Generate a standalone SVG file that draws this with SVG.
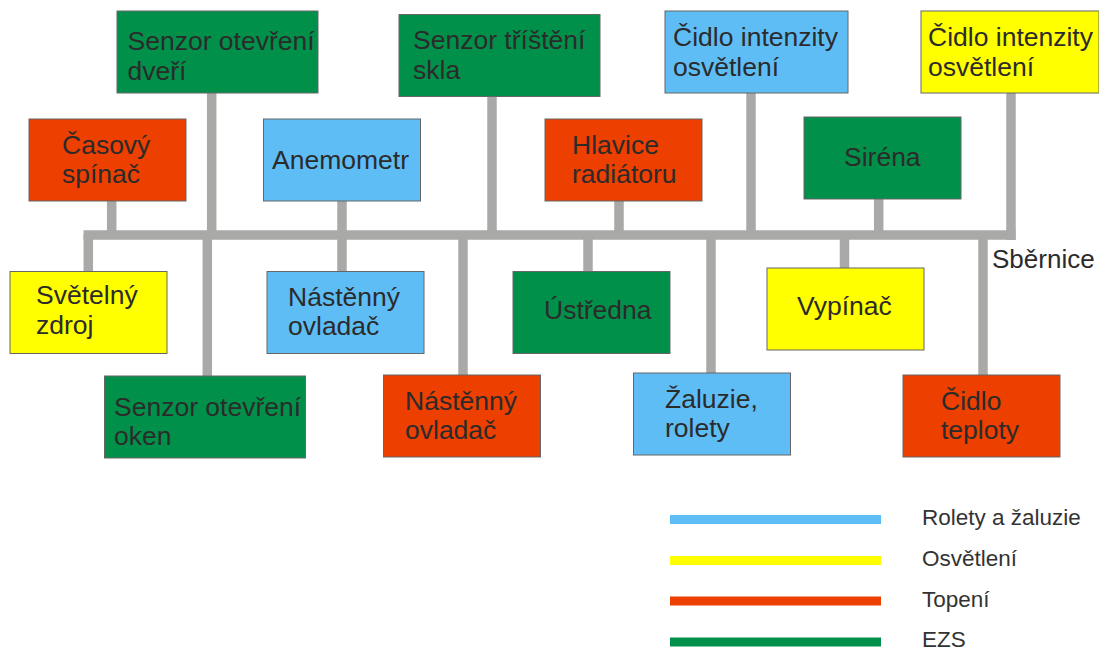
<svg xmlns="http://www.w3.org/2000/svg" width="1099" height="647" viewBox="0 0 1099 647">
<style>
text{font-family:"Liberation Sans",Arial,sans-serif;fill:#2b2b2b}
.t{font-size:26.500px}
.l{font-size:22.500px;fill:#333}
.b{stroke:#666;stroke-width:1}
.g{fill:#00904a}.r{fill:#ec3f00}.c{fill:#5fbdf5}.y{fill:#ffff00}
.w{stroke:#a9a9a7;stroke-width:9.500;fill:none}
.k{stroke-width:9;fill:none}
</style>
<rect width="1099" height="647" fill="#fff"/>
<g id="connectors" class="w">
<path d="M83.500 235H1015.500"/>
<path d="M88.300 235V271"/>
<path d="M111.700 201V235"/><path d="M211.700 93V235"/><path d="M342 201V235"/><path d="M492 96V235"/><path d="M619 201V235"/><path d="M751 93V235"/><path d="M878.700 199V235"/><path d="M1011 93V240"/>
<path d="M207.300 235V376"/><path d="M342 235V272"/><path d="M463 235V375"/><path d="M588 235V272"/><path d="M711 235V373"/><path d="M844.500 235V268"/><path d="M983 235V375"/>
</g>
<g id="n1"><rect class="b g" x="117" y="11" width="201" height="82"/><text class="t" x="127.500" y="50">Senzor otevření</text><text class="t" x="127.500" y="80">dveří</text></g>
<g id="n2"><rect class="b g" x="399" y="14.500" width="201" height="82"/><text class="t" x="413" y="49">Senzor tříštění</text><text class="t" x="413" y="79">skla</text></g>
<g id="n3"><rect class="b c" x="665" y="11" width="183" height="82"/><text class="t" x="673" y="46">Čidlo intenzity</text><text class="t" x="673" y="76">osvětlení</text></g>
<g id="n4"><rect class="b y" x="921" y="11" width="178" height="82"/><text class="t" x="928" y="46">Čidlo intenzity</text><text class="t" x="928" y="76">osvětlení</text></g>
<g id="n5"><rect class="b r" x="29" y="119" width="157" height="82"/><text class="t" x="62" y="154">Časový</text><text class="t" x="62" y="183">spínač</text></g>
<g id="n6"><rect class="b c" x="263.500" y="119" width="157" height="82"/><text class="t" x="272" y="169">Anemometr</text></g>
<g id="n7"><rect class="b r" x="545" y="119" width="157" height="82"/><text class="t" x="572" y="154">Hlavice</text><text class="t" x="572" y="183">radiátoru</text></g>
<g id="n8"><rect class="b g" x="804" y="117" width="157" height="82"/><text class="t" x="844" y="166">Siréna</text></g>
<g id="n9"><rect class="b y" x="10" y="271.500" width="157" height="82"/><text class="t" x="36" y="304">Světelný</text><text class="t" x="36" y="334">zdroj</text></g>
<g id="n10"><rect class="b c" x="267" y="271.500" width="157" height="82"/><text class="t" x="288" y="306">Nástěnný</text><text class="t" x="288" y="335">ovladač</text></g>
<g id="n11"><rect class="b g" x="513" y="271.500" width="157" height="82"/><text class="t" x="544" y="319">Ústředna</text></g>
<g id="n12"><rect class="b y" x="767" y="268" width="157" height="82"/><text class="t" x="797" y="315">Vypínač</text></g>
<g id="n13"><rect class="b g" x="104.500" y="376" width="201" height="82"/><text class="t" x="114" y="416">Senzor otevření</text><text class="t" x="114" y="445">oken</text></g>
<g id="n14"><rect class="b r" x="383.500" y="375" width="157" height="82"/><text class="t" x="405" y="410">Nástěnný</text><text class="t" x="405" y="439">ovladač</text></g>
<g id="n15"><rect class="b c" x="633.500" y="373" width="157" height="82"/><text class="t" x="665" y="408">Žaluzie,</text><text class="t" x="665" y="437">rolety</text></g>
<g id="n16"><rect class="b r" x="903" y="375" width="157" height="82"/><text class="t" x="941" y="410">Čidlo</text><text class="t" x="941" y="439">teploty</text></g>
<text x="992" y="268" style="font-size:26px;fill:#2b2b2b">Sběrnice</text>
<g id="legend">
<path class="k" stroke="#5fbdf5" d="M670 519.500H881"/>
<path class="k" stroke="#ffff00" d="M670 560.500H881"/>
<path class="k" stroke="#ec3f00" d="M670 601H881"/>
<path class="k" stroke="#00904a" d="M670 642H881"/>
<text class="l" x="922" y="525">Rolety a žaluzie</text>
<text class="l" x="922" y="566">Osvětlení</text>
<text class="l" x="922" y="606.500">Topení</text>
<text class="l" x="922" y="647">EZS</text>
</g>
</svg>
